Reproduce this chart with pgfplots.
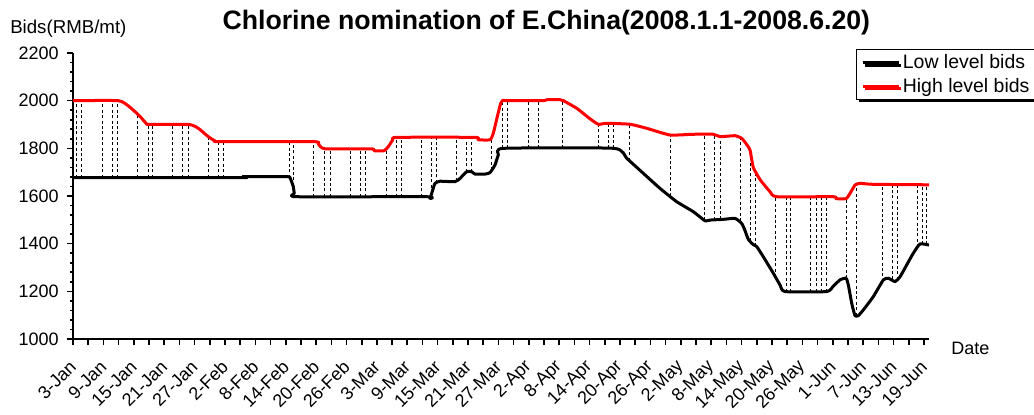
\documentclass[border=0pt]{standalone}
\usepackage{pgfplots}
\pgfplotsset{compat=1.18}
\usepackage{pgfplotstable}
\usepackage{fontspec}
\setmainfont{Liberation Sans}
\usetikzlibrary{shadows}

% x = day of 2008 (3 = 3-Jan)
\pgfplotstableread{
d      v
3.00   2000
11.94  2000
13.92  1978
15.24  1954
16.56  1926
17.55  1902
18.20  1900
25.90  1900
27.74  1884
29.71  1849
31.04  1831
31.80  1828
50.58  1828
51.43  1818
52.75  1798
61.97  1798
62.40  1790
64.40  1790
65.25  1807
66.12  1835
66.91  1846
82.37  1846
82.96  1836
85.33  1836
85.98  1863
86.77  1933
87.44  1989
87.96  2003
88.49  2000
95.85  2000
96.52  2004
99.15  2004
99.80  2000
102.45 1968
105.07 1924
106.71 1901
108.37 1905
112.97 1901
116.27 1884
120.87 1856
125.47 1859
129.42 1859
130.74 1849
133.70 1853
135.02 1842
135.87 1820
136.66 1793
137.31 1720
138.64 1669
140.61 1618
141.93 1597
153.11 1597
153.64 1589
155.62 1589
156.41 1611
157.39 1646
158.38 1653
161.01 1649
172.00 1647
}\high

\pgfplotstableread{
d      v
3.00   1677
36.31  1677
36.56  1681
45.19  1681
45.84  1677
46.50  1639
46.69  1611
47.17  1597
72.83  1597
73.48  1590
74.02  1625
74.47  1653
75.46  1662
78.42  1660
79.41  1674
80.73  1702
81.72  1702
82.37  1692
84.34  1692
85.33  1698
86.31  1730
86.97  1772
87.96  1800
109.81 1800
112.32 1758
115.60 1695
118.89 1632
122.19 1576
125.47 1534
127.78 1496
128.77 1499
131.39 1502
133.70 1506
135.02 1485
135.67 1455
136.33 1418
137.31 1396
137.98 1388
139.29 1345
141.26 1276
142.58 1227
143.57 1199
151.80 1199
153.11 1222
154.43 1248
155.62 1255
156.07 1227
156.74 1150
157.39 1098
158.04 1098
159.03 1122
161.01 1178
162.98 1248
163.97 1255
165.29 1241
166.28 1261
167.60 1311
168.90 1360
170.23 1399
172.00 1394
}\low

% nomination days: low and high bid
\pgfplotstableread{
d      lo    hi
3.73   1677  2000
4.72   1677  2000
8.78   1677  2000
10.84  1677  2000
11.83  1677  2000
15.83  1677  1941
17.87  1677  1901
18.74  1677  1900
22.68  1677  1900
24.66  1677  1900
25.76  1677  1900
29.79  1677  1848
31.77  1677  1828
32.81  1677  1828
45.84  1677  1828
46.63  1620  1828
50.58  1597  1828
52.75  1597  1798
53.74  1597  1798
57.69  1597  1798
59.80  1597  1798
60.79  1597  1798
64.80  1597  1795
66.77  1597  1845
67.76  1597  1846
71.71  1597  1846
73.82  1612  1846
74.67  1655  1846
78.76  1665  1846
80.73  1702  1846
81.72  1702  1846
85.66  1708  1850
87.84  1800  2003
88.82  1800  2000
92.89  1800  2000
94.87  1800  2000
99.68  1800  2001
106.71 1800  1901
108.69 1800  1905
109.67 1800  1904
112.77 1748  1901
120.87 1598  1856
127.64 1498  1859
129.61 1500  1859
130.74 1502  1849
134.69 1495  1843
136.66 1410  1793
137.79 1390  1700
141.74 1260  1598
143.77 1199  1597
144.70 1199  1597
148.65 1199  1597
149.70 1199  1597
150.69 1199  1597
151.68 1199  1597
155.62 1255  1589
157.60 1098  1648
162.78 1240  1650
164.76 1250  1650
165.75 1248  1650
169.77 1385  1649
170.76 1399  1648
171.41 1397  1648
}\drops

\begin{document}
\begin{tikzpicture}
\useasboundingbox (-54.75pt,-56.25pt) rectangle (720.75pt,254.25pt);
\begin{axis}[
    at={(0pt,0pt)}, anchor=south west,
    scale only axis, width=642pt, height=214.5pt,
    xmin=3, xmax=172, ymin=1000, ymax=2200,
    axis x line*=bottom, axis y line*=left,
    axis line style={-, line width=1.7pt},
    tick align=outside,
    major tick length=4.5pt, minor tick length=2.2pt,
    tick style={black, line width=1.2pt},
    xtick={3,6,...,171},
    xticklabels={3-Jan,,9-Jan,,15-Jan,,21-Jan,,27-Jan,,2-Feb,,8-Feb,,14-Feb,,20-Feb,,26-Feb,,3-Mar,,9-Mar,,15-Mar,,21-Mar,,27-Mar,,2-Apr,,8-Apr,,14-Apr,,20-Apr,,26-Apr,,2-May,,8-May,,14-May,,20-May,,26-May,,1-Jun,,7-Jun,,13-Jun,,19-Jun},
    ytick={1000,1200,...,2200},
    minor y tick num=4,
    /pgf/number format/1000 sep={},
    /pgf/number format/assume math mode=true,
    ticklabel style={font=\fontsize{13.5}{15}\selectfont},
    xticklabel style={rotate=45, anchor=east, inner sep=0pt},
    xticklabel shift=14pt,
    yticklabel style={anchor=east, inner sep=0pt},
    yticklabel shift=6pt,
    legend style={at={(0.9147,1.014)}, anchor=north west, draw=black,
        line width=0.8pt, fill=white,
        drop shadow={shadow xshift=1.6pt, shadow yshift=-1.6pt, opacity=1, fill=black},
        font=\fontsize{14.6}{16}\selectfont,
        inner xsep=4pt, inner ysep=2pt, row sep=1.5pt,
        nodes={inner xsep=1.5pt}},
    legend cell align=left,
    legend image code/.code={\draw[#1, line width=2.25pt] (0pt,0pt) -- (27pt,0pt);},
]
\addplot[draw=none, forget plot,
    error bars/.cd, y dir=plus, y explicit, error mark=none,
    error bar style={draw=black, line width=0.75pt, dash pattern=on 2.25pt off 1.8pt}]
    table[x=d, y=lo, y error expr=\thisrow{hi}-\thisrow{lo}] {\drops};
\addplot[black, line width=2.25pt, line join=round, smooth, tension=0.3] table[x=d, y=v] {\low};
\addlegendentry{Low level bids}
\addplot[red, line width=2.25pt, line join=round, smooth, tension=0.3] table[x=d, y=v] {\high};
\addlegendentry{High level bids}
\end{axis}
\node[font=\bfseries\fontsize{20}{22}\selectfont] at (355pt,237.5pt)
    {Chlorine nomination of E.China(2008.1.1-2008.6.20)};
\node[anchor=west, inner sep=0pt, font=\fontsize{14}{16}\selectfont] at (-47.25pt,232.5pt) {Bids(RMB/mt)};
\node[anchor=west, inner sep=0pt, font=\fontsize{13.5}{15}\selectfont] at (658.5pt,-6.75pt) {Date};
\end{tikzpicture}
\end{document}
